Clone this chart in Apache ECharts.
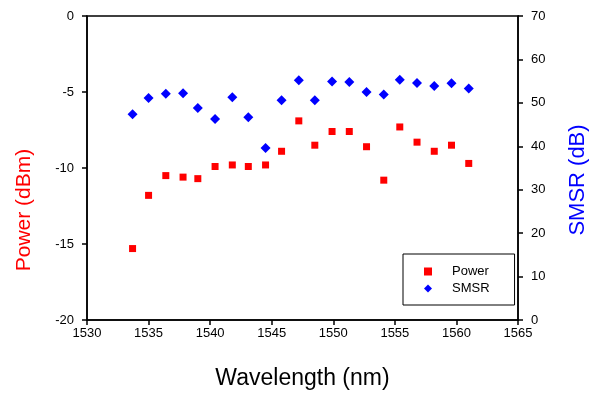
<!DOCTYPE html>
<html>
<head>
<meta charset="utf-8">
<script src="https://cdn.jsdelivr.net/npm/echarts@6/dist/echarts.min.js"></script>
<style>
  html, body { margin: 0; padding: 0; background: #fff; }
  #main { width: 591px; height: 393px; }
</style>
</head>
<body>
<div id="main"></div>
<script>
// wavelength of each measurement (nm)
var wavelength = [1533.7, 1535.0, 1536.4, 1537.8, 1539.0, 1540.4, 1541.8, 1543.1, 1544.5, 1545.8, 1547.2,
    1548.5, 1549.9, 1551.3, 1552.7, 1554.1, 1555.4, 1556.8, 1558.2, 1559.6, 1561.0];
// output power (dBm)
var power = [-15.3, -11.8, -10.5, -10.6, -10.7, -9.9, -9.8, -9.9, -9.8, -8.9, -6.9,
    -8.5, -7.6, -7.6, -8.6, -10.8, -7.3, -8.3, -8.9, -8.5, -9.7];
// side mode suppression ratio (dB)
var smsr = [47.4, 51.1, 52.1, 52.2, 48.8, 46.3, 51.3, 46.7, 39.6, 50.6, 55.2,
    50.6, 54.9, 54.8, 52.5, 51.9, 55.3, 54.6, 53.9, 54.5, 53.3];

(function() {
    var font = '"Liberation Sans", Arial, sans-serif';

    function pairs(xs, ys) {
        var out = [];
        for (var i = 0; i < xs.length; i++) {
            out.push([xs[i], ys[i]]);
        }
        return out;
    }

    var axisLine = { show: true, onZero: false, lineStyle: { color: '#000', width: 1.5 } };
    var axisTick = { show: true, length: 5, lineStyle: { color: '#000', width: 1.5 } };

    var myChart = echarts.init(document.getElementById('main'));
    var option = {
        backgroundColor: '#fff',
        animation: false,
        grid: {
            left: 87,
            right: 73,
            top: 16,
            bottom: 73,
            outerBoundsMode: 'none',
            show: true,
            borderColor: '#000',
            borderWidth: 1.5
        },
        legend: {
            orient: 'vertical',
            left: 403,
            top: 254,
            padding: [11, 25, 10, 21],
            itemGap: 4,
            itemWidth: 8,
            itemHeight: 8,
            borderColor: '#000',
            borderWidth: 1,
            backgroundColor: '#fff',
            textStyle: { color: '#000', fontSize: 13, fontFamily: font, padding: [0, 0, 0, 15] },
            data: [{ name: 'Power', icon: 'rect' }, { name: 'SMSR', icon: 'diamond' }]
        },
        xAxis: {
            type: 'value',
            min: 1530,
            max: 1565,
            interval: 5,
            name: 'Wavelength (nm)',
            nameLocation: 'middle',
            nameGap: 47,
            nameTextStyle: { color: '#000', fontSize: 23, fontFamily: font },
            axisLine: axisLine,
            axisTick: axisTick,
            axisLabel: {
                color: '#000', fontSize: 13, fontFamily: font, margin: 7,
                formatter: function(v) { return String(v); }
            },
            splitLine: { show: false }
        },
        yAxis: [{
            type: 'value',
            position: 'left',
            min: -20,
            max: 0,
            interval: 5,
            name: 'Power (dBm)',
            nameLocation: 'middle',
            nameGap: 52,
            nameTextStyle: { color: '#ff0000', fontSize: 21, fontFamily: font, padding: [0, 84, 0, 0] },
            axisLine: axisLine,
            axisTick: axisTick,
            axisLabel: { color: '#000', fontSize: 13, fontFamily: font, margin: 13 },
            splitLine: { show: false }
        }, {
            type: 'value',
            position: 'right',
            min: 0,
            max: 70,
            interval: 10,
            name: 'SMSR (dB)',
            nameLocation: 'middle',
            nameGap: 49,
            nameTextStyle: { color: '#0000ff', fontSize: 22, fontFamily: font, padding: [0, 24, 0, 0] },
            axisLine: axisLine,
            axisTick: axisTick,
            axisLabel: { color: '#000', fontSize: 13, fontFamily: font, margin: 13 },
            splitLine: { show: false }
        }],
        series: [{
            name: 'Power',
            type: 'scatter',
            yAxisIndex: 0,
            symbol: 'rect',
            symbolSize: 7,
            itemStyle: { color: '#ff0000', opacity: 1 },
            data: pairs(wavelength, power)
        }, {
            name: 'SMSR',
            type: 'scatter',
            yAxisIndex: 1,
            symbol: 'diamond',
            symbolSize: 10,
            itemStyle: { color: '#0000ff', opacity: 1 },
            data: pairs(wavelength, smsr)
        }]
    };
    myChart.setOption(option);
})()
</script>
</body>
</html>
